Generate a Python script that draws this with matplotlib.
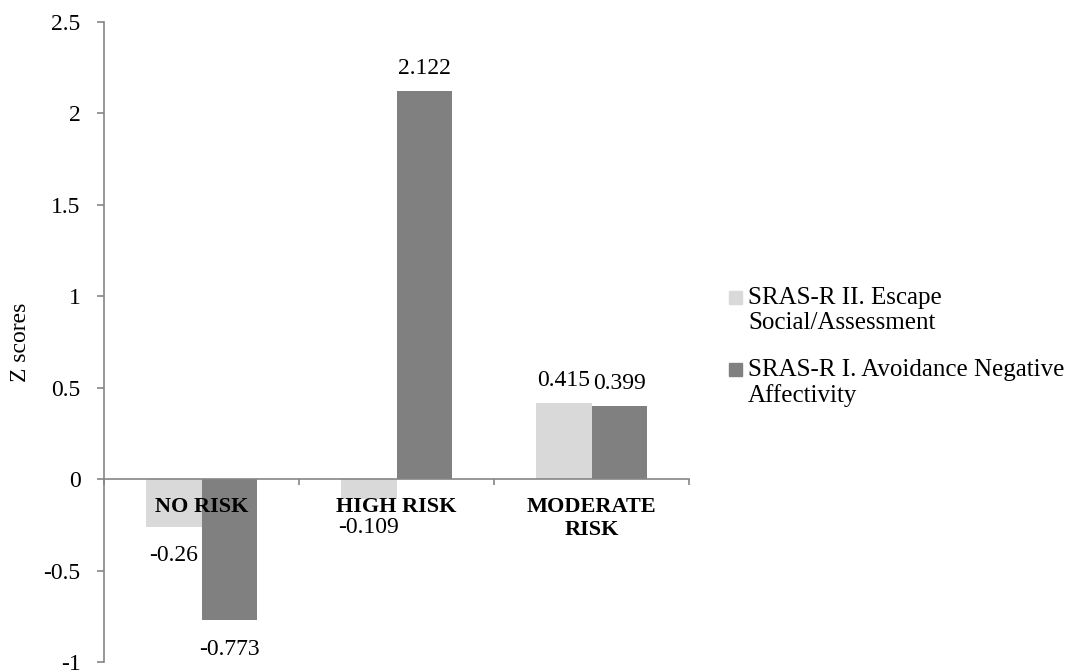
# Z scores of the two SRAS-R factors per risk group
import matplotlib.pyplot as plt
from matplotlib.patches import Rectangle

plt.rcParams['font.family'] = ['Liberation Serif', 'DejaVu Serif']

# Data
groups = ['NO RISK', 'HIGH RISK', 'MODERATE\nRISK']
escape_social = [-0.26, -0.109, 0.415]
avoid_negative = [-0.773, 2.122, 0.399]
series_names = ['SRAS-R II. Escape\nSocial/Assessment',
                'SRAS-R I. Avoidance Negative\nAffectivity']
series_colors = ['#d9d9d9', '#808080']
yticks = [-1, -0.5, 0, 0.5, 1, 1.5, 2, 2.5]
ytick_labels = ['-1', '-0.5', '0', '0.5', '1', '1.5', '2', '2.5']

W, H = 1072, 671
fig = plt.figure(figsize=(W / 100, H / 100), dpi=100)
ax = fig.add_axes([104 / W, 9 / H, 585 / W, 640 / H])

x = list(range(len(groups)))
bw = 0.287
axis_grey = '#868686'

for vals, off, col in [(escape_social, -bw / 2, series_colors[0]),
                       (avoid_negative, bw / 2, series_colors[1])]:
    xs = [i + off for i in x]
    ax.bar(xs, vals, width=bw, color=col, zorder=2)
    for xi, v in zip(xs, vals):
        if v >= 0:
            ax.annotate(f'{v:g}', (xi, v), xytext=(0, 9), textcoords='offset points',
                        ha='center', va='bottom', fontsize=17)
        else:
            ax.annotate(f'{v:g}', (xi, v), xytext=(0, -13), textcoords='offset points',
                        ha='center', va='top', fontsize=17)

# category names sit just under the zero line
for i, g in enumerate(groups):
    ax.annotate(g, (i, 0), xytext=(0, -13), textcoords='offset points',
                ha='center', va='top', fontsize=16, fontweight='bold', zorder=3)

ax.set_xlim(-0.5, 2.5)
ax.set_ylim(-1, 2.5)
ax.set_yticks(yticks)
ax.set_yticklabels(ytick_labels, fontsize=17)
ax.set_xticks([-0.5, 0.5, 1.5, 2.5])
ax.set_xticklabels([])

ax.spines['top'].set_visible(False)
ax.spines['right'].set_visible(False)
ax.spines['bottom'].set_position(('data', 0))
for s in ['left', 'bottom']:
    ax.spines[s].set_color(axis_grey)
    ax.spines[s].set_linewidth(1.2)
ax.tick_params(axis='y', direction='out', length=5, width=1.2, color=axis_grey, pad=12)
ax.tick_params(axis='x', direction='out', length=4.5, width=1.2, color=axis_grey)

ax.set_ylabel('Z scores', fontsize=17)
ax.yaxis.set_label_coords(-0.125, 0.5)

# legend drawn by hand so the square lines up with the first text line
leg_top = [287, 359]
for name, col, top in zip(series_names, series_colors, leg_top):
    fig.add_artist(Rectangle((729 / W, 1 - (top + 17) / H), 13 / W, 13 / H,
                             transform=fig.transFigure, color=col))
    fig.text(748 / W, 1 - top / H, name, ha='left', va='top', fontsize=18,
             linespacing=1.15)

fig.savefig('out.png', dpi=100)
